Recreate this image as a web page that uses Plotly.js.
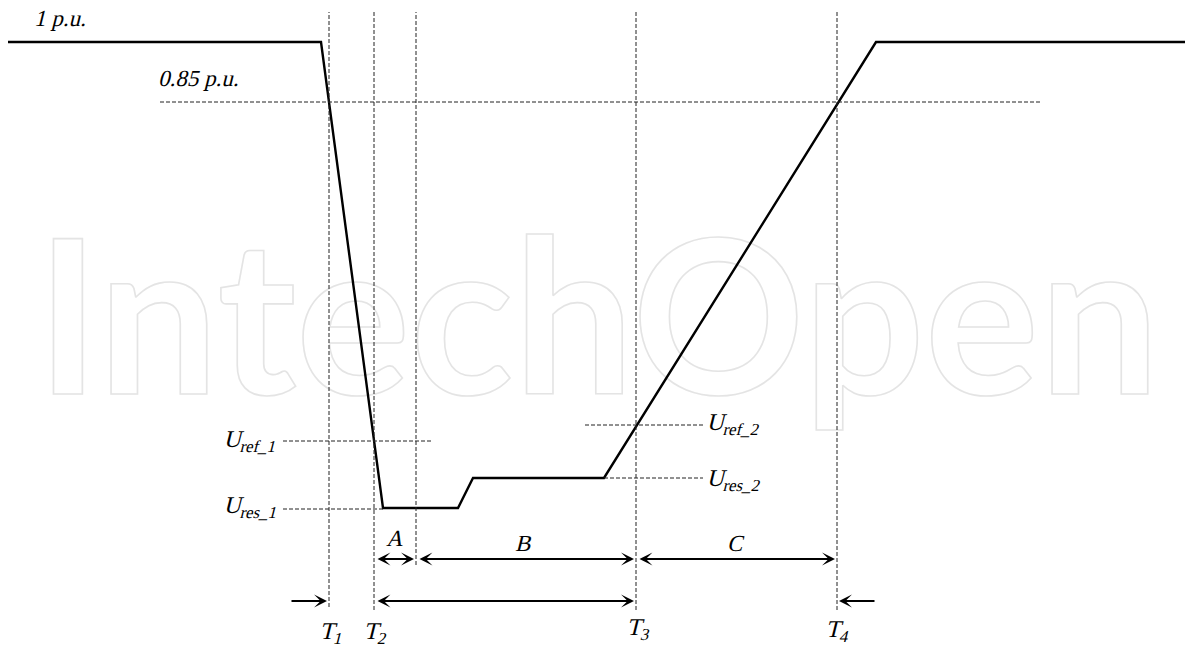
<!DOCTYPE html>
<html>
<head>
<meta charset="utf-8">
<script src="https://cdn.plot.ly/plotly-3.0.1.min.js"></script>
<style>html,body{margin:0;padding:0;background:#fff;}#chart{width:1185px;height:648px;}</style>
</head>
<body>
<div id="chart"></div>
<script>
// Voltage profile (time, voltage level in drawing units)
const profileT = [8, 321, 383, 458, 473, 604, 876, 1185];
const profileU = [606, 606, 140, 140, 170, 170, 606, 606];

// Voltage levels
const level085 = 546;
const levelRef1 = 207;
const levelRes1 = 139;
const levelRef2 = 223;
const levelRes2 = 170;

// Time markers
const timeNames = ["T1", "T2", "TA", "T3", "T4"];
const timeValues = [329, 374, 416, 636, 837];
const timeBottoms = [41, 38, 83, 38, 38];
const timeTop = 636;

// Interval rows
const rowABC = 89;
const rowBottom = 47;

const F = "Liberation Serif";

const shapes = [];
const dash = {color: "#222", width: 1, dash: "4px,2px"};
timeValues.forEach((t, i) => {
  shapes.push({type: "line", xref: "x", yref: "y", x0: t, x1: t, y0: timeBottoms[i], y1: timeTop, line: dash, layer: "above"});
});
shapes.push({type: "line", x0: 160, x1: 1042, y0: level085, y1: level085, line: dash});
shapes.push({type: "line", x0: 283, x1: 432, y0: levelRef1, y1: levelRef1, line: dash});
shapes.push({type: "line", x0: 283, x1: 383, y0: levelRes1, y1: levelRes1, line: dash});
shapes.push({type: "line", x0: 585, x1: 703, y0: levelRef2, y1: levelRef2, line: dash});
shapes.push({type: "line", x0: 604, x1: 703, y0: levelRes2, y1: levelRes2, line: dash});

function arrow(x, y, ax, ay, both) {
  return {x: x, y: y, ax: ax, ay: ay, xref: "x", yref: "y", axref: "x", ayref: "y",
    showarrow: true, arrowhead: 3, startarrowhead: 3, arrowsize: 1.2, startarrowsize: 1.2, arrowwidth: 1.8,
    arrowside: both ? "end+start" : "end", arrowcolor: "#000", text: ""};
}
function label(x, y, txt, size, xanchor) {
  return {x: x, y: y, xref: "x", yref: "y", text: txt, showarrow: false,
    font: {family: F, size: size, color: "#000"}, xanchor: xanchor || "left", yanchor: "middle"};
}

const annotations = [
  arrow(414, rowABC, 376, rowABC, true),
  arrow(634, rowABC, 418, rowABC, true),
  arrow(835, rowABC, 638, rowABC, true),
  arrow(327, rowBottom, 290, rowBottom, false),
  arrow(634, rowBottom, 376, rowBottom, true),
  arrow(839, rowBottom, 876, rowBottom, false),
  label(34, 630, "1 p.u.", 23),
  label(158, 570, "0.85 p.u.", 23),
  label(223, 207, "U<sub>ref_1</sub>", 24),
  label(223, 141, "U<sub>res_1</sub>", 24),
  label(706, 224, "U<sub>ref_2</sub>", 24),
  label(706, 168, "U<sub>res_2</sub>", 24),
  label(396, 110, "A", 23, "center"),
  label(524, 105, "B", 23, "center"),
  label(736, 105, "C", 23, "center"),
  label(319, 15, "T<sub>1</sub>", 24),
  label(363, 15, "T<sub>2</sub>", 24),
  label(626, 19, "T<sub>3</sub>", 24),
  label(825, 17, "T<sub>4</sub>", 24)
];

const traces = [
  {x: [598], y: [308], mode: "text", text: ["IntechOpen"], hoverinfo: "skip",
   textfont: {family: "Lato, DejaVu Sans, sans-serif", size: 214, color: "#e6e6e6", weight: 700}, showlegend: false},
  {x: profileT, y: profileU, mode: "lines", line: {color: "#000", width: 2.4}, hoverinfo: "skip", showlegend: false}
];

const layout = {
  width: 1185, height: 648,
  margin: {l: 0, r: 0, t: 0, b: 0},
  paper_bgcolor: "#fff", plot_bgcolor: "#fff",
  xaxis: {range: [0, 1185], visible: false, fixedrange: true},
  yaxis: {range: [0, 648], visible: false, fixedrange: true},
  shapes: shapes,
  annotations: annotations,
  showlegend: false
};
Plotly.newPlot("chart", traces, layout, {displayModeBar: false, staticPlot: true}).then(gd => {
  gd.querySelectorAll(".textpoint text").forEach(t => {
    t.style.fill = "none";
    t.style.stroke = "#e4e4e4";
    t.style.strokeWidth = "1.6px";
  });
  gd.querySelectorAll(".annotation-text").forEach(t => {
    t.style.transformBox = "fill-box";
    t.style.transformOrigin = "50% 50%";
    t.style.transform = "skewX(-14deg)";
  });
});
</script>
</body>
</html>
